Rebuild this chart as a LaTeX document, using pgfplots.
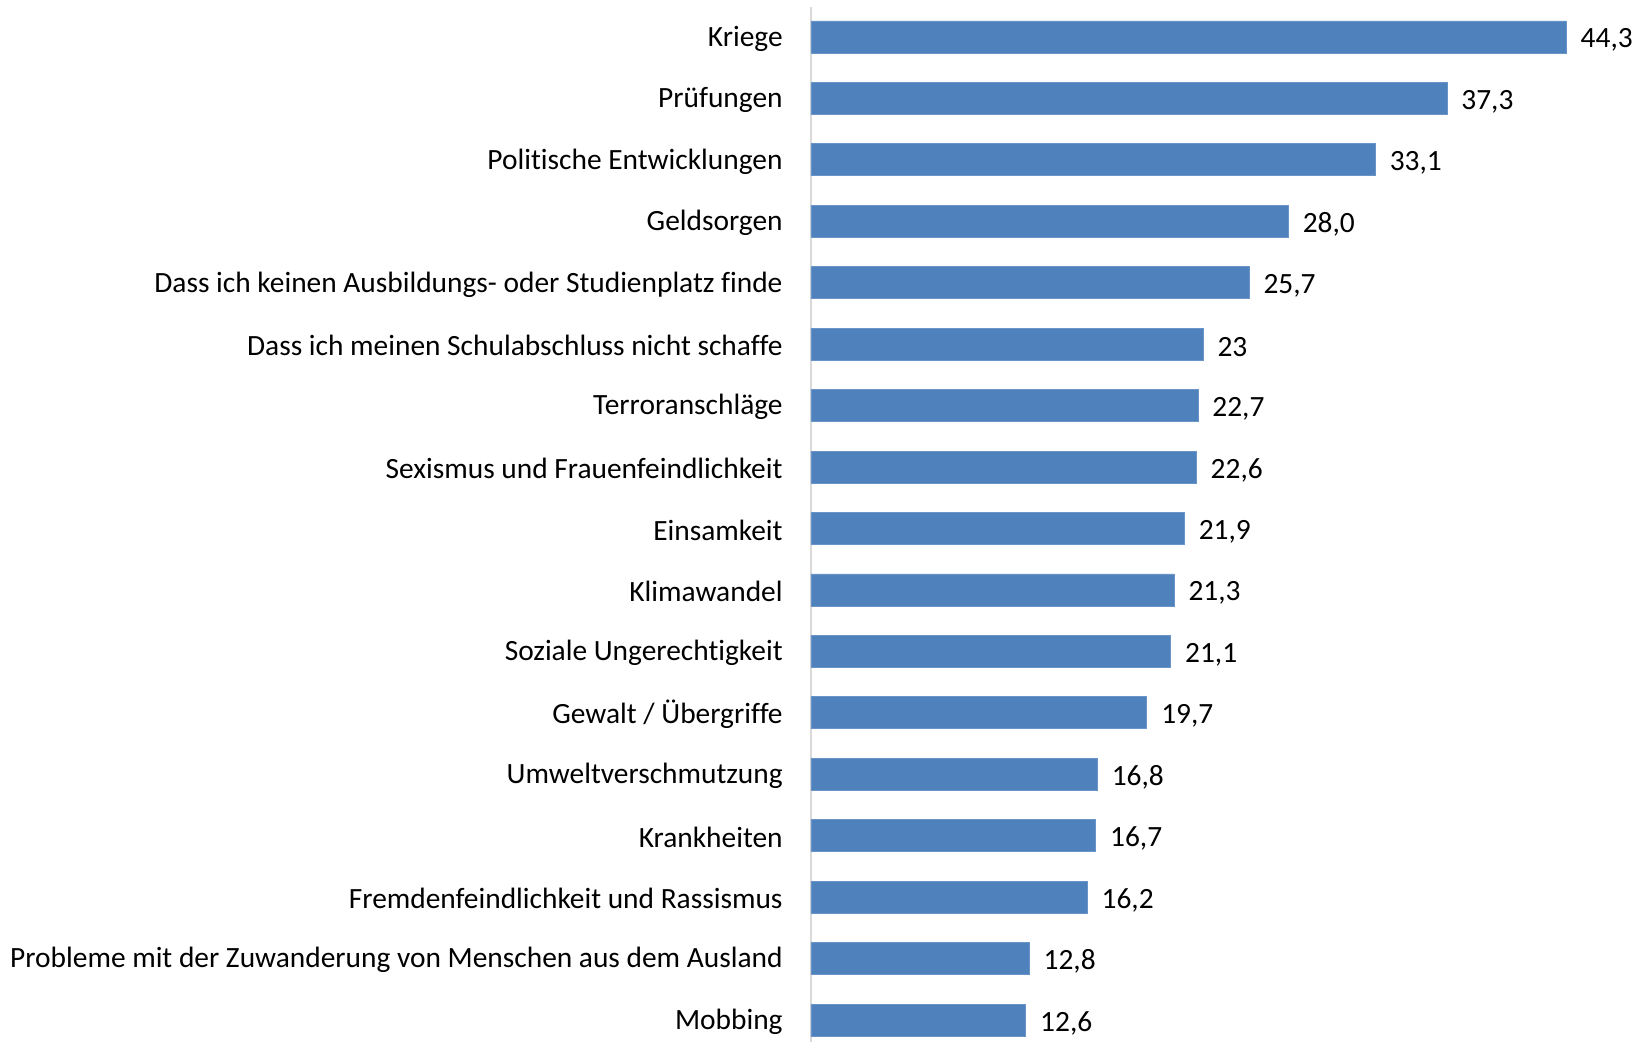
\documentclass[border=0pt]{standalone}
\usepackage{pgfplots}
\pgfplotsset{compat=1.18}
\usepackage{fontspec}
\setmainfont[Ligatures=NoCommon]{Carlito}
\definecolor{barblue}{HTML}{4F81BD}
\begin{document}
\begin{tikzpicture}
\begin{axis}[
  x=8.525pt, y=30.72pt, y dir=reverse,
  xmin=0, xmax=44.3, ymin=-0.488, ymax=16.358,
  xbar, bar width=16pt,
  axis x line=none, axis y line*=left,
  y axis line style={draw=black!15, line width=1pt},
  ytick={0,...,16},
  yticklabels={Kriege,Prüfungen,Politische Entwicklungen,Geldsorgen,Dass ich keinen Ausbildungs- oder Studienplatz finde,Dass ich meinen Schulabschluss nicht schaffe,Terroranschläge,Sexismus und Frauenfeindlichkeit,Einsamkeit,Klimawandel,Soziale Ungerechtigkeit,Gewalt / Übergriffe,Umweltverschmutzung,Krankheiten,Fremdenfeindlichkeit und Rassismus,Probleme mit der Zuwanderung von Menschen aus dem Ausland,Mobbing},
  major tick length=0pt,
  yticklabel style={font=\fontsize{14.7}{16}\selectfont, inner sep=0pt, anchor=east, xshift=-14pt, yshift=-0.8pt},
  point meta=explicit symbolic,
  nodes near coords={\pgfplotspointmeta},
  nodes near coords style={font=\fontsize{14.7}{16}\selectfont, anchor=west, inner sep=0pt, xshift=7pt, yshift=-1.5pt},
  clip=false,
]
\addplot[fill=barblue, draw=barblue!85!white] table[x=x, y=y, meta=label] {
x y label
44.3 0 44,3
37.3 1 37,3
33.1 2 33,1
28.0 3 28,0
25.7 4 25,7
23.0 5 23
22.7 6 22,7
22.6 7 22,6
21.9 8 21,9
21.3 9 21,3
21.1 10 21,1
19.7 11 19,7
16.8 12 16,8
16.7 13 16,7
16.2 14 16,2
12.8 15 12,8
12.6 16 12,6
};
\coordinate (a) at (axis cs:0,0);
\end{axis}
\pgfresetboundingbox
\path ([xshift=-405.5pt, yshift=18.5pt]a) rectangle ([xshift=415pt, yshift=-502.5pt]a);
\end{tikzpicture}
\end{document}
